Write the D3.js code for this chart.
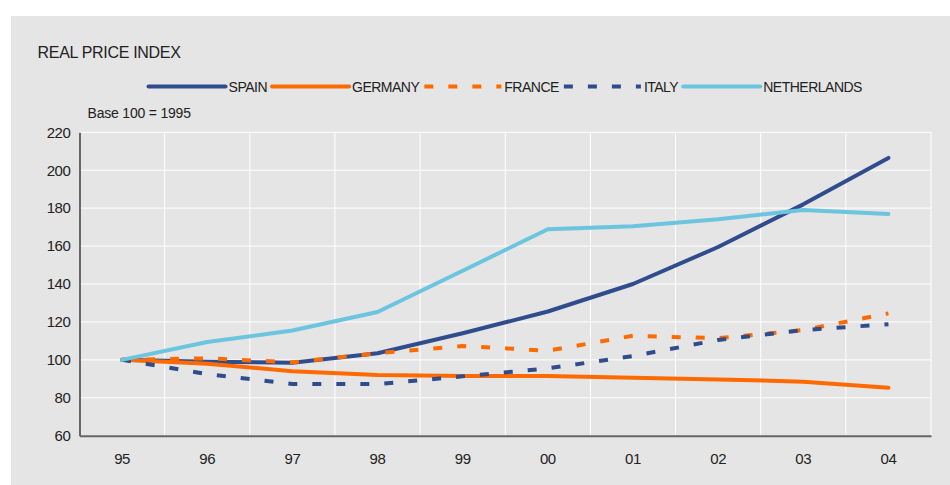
<!DOCTYPE html>
<html>
<head>
<meta charset="utf-8">
<script src="https://cdn.jsdelivr.net/npm/d3@7"></script>
<style>
  body { margin: 0; background: #fff; }
  svg { display: block; font-family: 'Liberation Sans', Arial, Helvetica, sans-serif; }
  text { fill: #222; }
</style>
</head>
<body>
<svg id="chart" width="950" height="485"></svg>
<script>
// values
const years = ['95', '96', '97', '98', '99', '00', '01', '02', '03', '04']
const spain = [100, 99, 98.5, 103.5, 114, 125.5, 140, 159.5, 182, 206.5]
const germany = [100, 98, 94, 92, 91.5, 91.5, 90.5, 89.7, 88.5, 85.3]
const france = [100, 100.8, 98.7, 103.5, 107.3, 104.8, 112.7, 111.4, 115.7, 124.5]
const italy = [100, 92.5, 87.3, 87.2, 91.3, 95.5, 102, 110.5, 115.7, 118.8]
const netherlands = [100, 109.4, 115.5, 125.2, 147, 168.9, 170.5, 174.1, 179, 176.9]
const seriesNames = ['SPAIN', 'GERMANY', 'FRANCE', 'ITALY', 'NETHERLANDS']
const yTicks = [60, 80, 100, 120, 140, 160, 180, 200, 220]

const seriesValues = [spain, germany, france, italy, netherlands]
const styles = {
  SPAIN: { color: '#2f4d8d', dash: null },
  GERMANY: { color: '#ff6a00', dash: null },
  FRANCE: { color: '#ff6a00', dash: '9,15' },
  ITALY: { color: '#2f4d8d', dash: '9,15' },
  NETHERLANDS: { color: '#6bc5de', dash: null }
}

const plot = { left: 79.5, right: 931, top: 132.3, bottom: 435.7 }

const svg = d3.select('#chart')

svg.append('rect')
  .attr('x', 11).attr('y', 16)
  .attr('width', 939).attr('height', 469)
  .attr('fill', '#e5e5e5')

const xScale = d3.scaleBand().domain(years).range([plot.left, plot.right]).paddingInner(0).paddingOuter(0)
const yScale = d3.scaleLinear().domain([60, 220]).range([plot.bottom, plot.top])
const xMid = d => xScale(d) + xScale.bandwidth() / 2

/**
 * Draws the white grid: horizontal lines on the y ticks, vertical lines between the years
 */
function drawGrid () {
  const grid = svg.append('g').attr('class', 'grid')
  grid.selectAll('line.h')
    .data(yTicks.filter(t => t > 60))
    .enter()
    .append('line')
    .attr('class', 'h')
    .attr('x1', plot.left).attr('x2', plot.right)
    .attr('y1', d => yScale(d)).attr('y2', d => yScale(d))
    .attr('stroke', '#fff').attr('stroke-width', 1)

  grid.selectAll('line.v')
    .data(years)
    .enter()
    .append('line')
    .attr('class', 'v')
    .attr('x1', d => xScale(d) + xScale.bandwidth()).attr('x2', d => xScale(d) + xScale.bandwidth())
    .attr('y1', plot.top).attr('y2', plot.bottom)
    .attr('stroke', '#fff').attr('stroke-width', 1)
}

/**
 * Draws both axes
 */
function drawAxes () {
  const yAxis = svg.append('g')
    .attr('transform', `translate(${plot.left}, 0)`)
    .call(d3.axisLeft(yScale).tickValues(yTicks).tickSize(0).tickPadding(9))
  yAxis.select('.domain').attr('stroke', '#111').attr('stroke-width', 1.2)
  yAxis.selectAll('text')
    .style('font-size', '15px')
    .style('letter-spacing', '-0.4px')
    .attr('fill', '#222')

  const xAxis = svg.append('g')
    .attr('transform', `translate(0, ${plot.bottom})`)
    .call(d3.axisBottom(xScale).tickSize(0).tickPadding(18))
  xAxis.select('.domain').attr('stroke', '#666').attr('stroke-width', 2)
  xAxis.selectAll('text')
    .style('font-size', '15px')
    .style('letter-spacing', '-0.4px')
    .attr('fill', '#222')
}

/**
 * Draws one line for each country
 */
function drawLines () {
  const line = d3.line()
    .x((d, i) => xMid(years[i]))
    .y(d => yScale(d))

  svg.append('g').attr('class', 'lines')
    .selectAll('path')
    .data(seriesNames)
    .enter()
    .append('path')
    .attr('d', (d, i) => line(seriesValues[i]))
    .attr('fill', 'none')
    .attr('stroke', d => styles[d].color)
    .attr('stroke-width', 4)
    .attr('stroke-dasharray', d => styles[d].dash)
    .attr('stroke-linecap', d => styles[d].dash ? 'butt' : 'round')
    .attr('stroke-linejoin', 'round')
}

/**
 * Draws the legend centred above the plot
 */
function drawLegend () {
  const legend = svg.append('g').attr('class', 'legend')
  const sampleW = 77
  let x = 0
  seriesNames.forEach(name => {
    const item = legend.append('g').attr('transform', `translate(${x}, 0)`)
    item.append('line')
      .attr('x1', 0).attr('x2', sampleW)
      .attr('y1', 0).attr('y2', 0)
      .attr('stroke', styles[name].color)
      .attr('stroke-width', 4)
      .attr('stroke-dasharray', styles[name].dash)
      .attr('stroke-linecap', styles[name].dash ? 'butt' : 'round')
    const label = item.append('text')
      .attr('x', sampleW + 3)
      .attr('y', 5.5)
      .style('font-size', '14px')
      .style('letter-spacing', '-0.5px')
      .text(name)
    x += sampleW + 3 + label.node().getComputedTextLength() + 5
  })
  const total = x - 5
  legend.attr('transform', `translate(${(plot.left + plot.right) / 2 - total / 2}, 86.5)`)
}

drawGrid()
drawLines()
drawAxes()
drawLegend()

svg.append('text')
  .attr('x', 37.5).attr('y', 57.5)
  .style('font-size', '16px')
  .style('letter-spacing', '-0.3px')
  .text('REAL PRICE INDEX')

svg.append('text')
  .attr('x', 87.5).attr('y', 118.3)
  .style('font-size', '14px')
  .style('letter-spacing', '-0.2px')
  .text('Base 100 = 1995')
</script>
</body>
</html>
